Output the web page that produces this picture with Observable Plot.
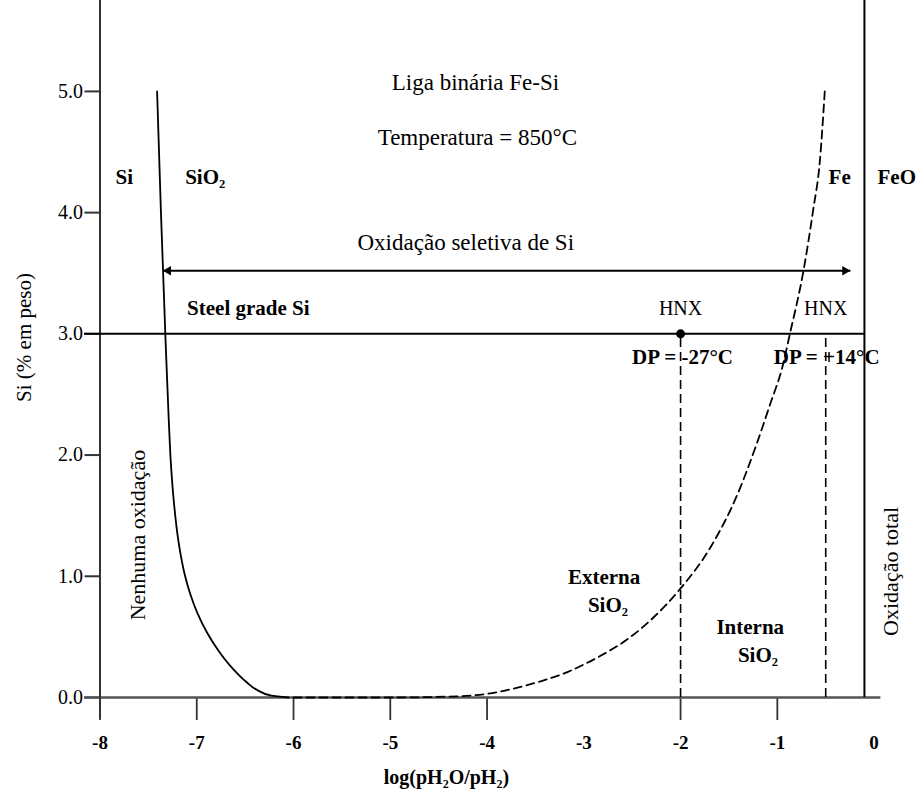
<!DOCTYPE html>
<html>
<head>
<meta charset="utf-8">
<script src="https://cdn.jsdelivr.net/npm/d3@7"></script>
<script src="https://cdn.jsdelivr.net/npm/@observablehq/plot@0.6"></script>
<style>
  html, body { margin: 0; padding: 0; background: #fff; }
  #chart { width: 919px; height: 796px; }
  #chart svg text { font-family: "Liberation Serif", "Times New Roman", serif; }
</style>
</head>
<body>
<div id="chart"></div>
<script>
// ---- data ----
const xTickValues = [-8, -7, -6, -5, -4, -2, -1];
const xTickLabels = [-8, -7, -6, -5, -4, -3, -2, -1, 0];
const yTickValues = [0, 1, 2, 3, 4, 5];

// Si / SiO2 boundary (solid)
const siBoundaryX = [-7.41, -7.37, -7.325, -7.29, -7.265, -7.235, -7.2, -7.16, -7.12, -7.07, -6.99, -6.89, -6.77, -6.63, -6.49, -6.36, -6.23, -6.05];
const siBoundaryY = [5.0, 4.0, 3.0, 2.3, 1.9, 1.6, 1.35, 1.15, 1.0, 0.86, 0.69, 0.53, 0.38, 0.24, 0.13, 0.055, 0.015, 0.0];

// external / internal oxidation boundary (dashed)
const extIntX = [-6.0, -5.0, -4.3, -4.0, -3.55, -3.17, -2.86, -2.55, -2.28, -2.0, -1.69, -1.41, -1.21, -1.07, -0.95, -0.87, -0.73, -0.63, -0.56, -0.51];
const extIntY = [0.0, 0.0, 0.01, 0.03, 0.11, 0.21, 0.33, 0.48, 0.66, 0.9, 1.24, 1.68, 2.10, 2.43, 2.72, 3.0, 3.52, 4.02, 4.43, 5.0];

// reference levels
const steelGradeSi = 3.0;
const dewPointX = [-2.0, -0.5];     // HNX dew points -27°C and +14°C
const feFeoBoundary = -0.1;
const selectiveRange = [-7.35, -0.245];
const selectiveLevel = 3.52;
const xDomain = [-8, 0];
const yDomain = [0, 5.75];
const xAxisExtent = [-8.16, 0.07];
const yAxisBottom = -0.175;

// annotations
const boldStartLabels = [
  {t: "Si", x: -7.84, y: 4.29},
  {t: "SiO₂", x: -7.12, y: 4.29},
  {t: "Fe", x: -0.47, y: 4.29},
  {t: "FeO", x: 0.035, y: 4.29},
  {t: "Steel grade Si", x: -7.10, y: 3.21}
];
const boldMiddleLabels = [
  {t: "DP = -27°C", x: -1.98, y: 2.81},
  {t: "DP = +14°C", x: -0.49, y: 2.81},
  {t: "Externa", x: -2.79, y: 0.99},
  {t: "SiO₂", x: -2.75, y: 0.76},
  {t: "Interna", x: -1.28, y: 0.58},
  {t: "SiO₂", x: -1.20, y: 0.35}
];
const normalLabels = [
  {t: "Liga binária Fe-Si", x: -4.12, y: 5.07},
  {t: "Temperatura = 850°C", x: -4.10, y: 4.62},
  {t: "Oxidação seletiva de Si", x: -4.22, y: 3.75}
];
const hnxLabels = [
  {t: "HNX", x: -2.0, y: 3.21},
  {t: "HNX", x: -0.5, y: 3.21}
];
const rotatedLabels = [
  {t: "Nenhuma oxidação", x: -7.61, y: 1.34},
  {t: "Oxidação total", x: 0.17, y: 1.04}
];
const xLabel = {t: "log(pH₂O/pH₂)", x: -4.42, y: -0.66};
const yLabel = {t: "Si (% em peso)", x: -8.78, y: 2.97};

// ---- build ----
const siCurve = siBoundaryX.map((x, i) => ({x, y: siBoundaryY[i]}));
const extCurve = extIntX.map((x, i) => ({x, y: extIntY[i]}));
const font = "'Liberation Serif', 'Times New Roman', serif";
const axisColor = "#333";

const chart = Plot.plot({
  width: 919,
  height: 796,
  marginLeft: 99.5,
  marginRight: 45.4,
  marginTop: 0,
  marginBottom: 99,
  style: {fontFamily: font, background: "#fff", color: "#000"},
  x: {domain: xDomain},
  y: {domain: yDomain},
  marks: [
    // tick marks
    Plot.axisX({ticks: xTickValues, tickSize: 23, tickFormat: () => "", stroke: axisColor, strokeWidth: 1.8, label: null}),
    Plot.axisX({ticks: xTickLabels, tickSize: 0, tickPadding: 38, tickFormat: d => String(d), fontSize: 19, fontWeight: "bold", label: null}),
    Plot.axisY({ticks: yTickValues, tickSize: 15, tickPadding: 2, tickFormat: d3.format(".1f"), fontSize: 20, stroke: axisColor, strokeWidth: 2, label: null}),
    // axis lines
    Plot.ruleY([0], {x1: xAxisExtent[0], x2: xAxisExtent[1], stroke: "#555", strokeWidth: 2.5}),
    Plot.ruleX([xDomain[0]], {y1: yAxisBottom, y2: yDomain[1], stroke: axisColor, strokeWidth: 2}),
    // steel grade line & Fe/FeO boundary
    Plot.ruleY([steelGradeSi], {x1: xAxisExtent[0], x2: feFeoBoundary, stroke: "#000", strokeWidth: 2}),
    Plot.ruleX([feFeoBoundary], {y1: 0, y2: yDomain[1], stroke: "#000", strokeWidth: 2}),
    // dew-point dashed verticals
    Plot.ruleX(dewPointX, {y1: 0, y2: steelGradeSi, stroke: "#000", strokeWidth: 1.6, strokeDasharray: "9,5"}),
    // curves
    Plot.line(siCurve, {x: "x", y: "y", curve: "monotone-y", stroke: "#000", strokeWidth: 1.8}),
    Plot.line(extCurve, {x: "x", y: "y", curve: "monotone-x", stroke: "#000", strokeWidth: 1.8, strokeDasharray: "8,5"}),
    // selective oxidation arrow
    Plot.link([0], {x1: () => selectiveRange[0], x2: () => selectiveRange[1], y1: () => selectiveLevel, y2: () => selectiveLevel, stroke: "#000", strokeWidth: 2}),
    Plot.dot([selectiveRange[1]], {x: d => d, y: () => selectiveLevel, symbol: "triangle", r: 3.5, rotate: 90, fill: "#000", stroke: null, dx: -5.4}),
    Plot.dot([selectiveRange[0]], {x: d => d, y: () => selectiveLevel, symbol: "triangle", r: 3.5, rotate: -90, fill: "#000", stroke: null, dx: 5.4}),
    // HNX point
    Plot.dot([dewPointX[0]], {x: d => d, y: () => steelGradeSi, r: 4.5, fill: "#000", stroke: null}),
    // labels
    Plot.text(normalLabels, {x: "x", y: "y", text: "t", fontSize: 23, fill: "#000"}),
    Plot.text(boldStartLabels, {x: "x", y: "y", text: "t", textAnchor: "start", fontSize: 21, fontWeight: "bold", fill: "#000"}),
    Plot.text(boldMiddleLabels, {x: "x", y: "y", text: "t", textAnchor: "middle", fontSize: 21, fontWeight: "bold", fill: "#000"}),
    Plot.text(hnxLabels, {x: "x", y: "y", text: "t", fontSize: 20, fill: "#000"}),
    Plot.text(rotatedLabels, {x: "x", y: "y", text: "t", rotate: -90, fontSize: 22, fill: "#000"}),
    Plot.text([xLabel], {x: "x", y: "y", text: "t", fontSize: 20, fontWeight: "bold", fill: "#000", clip: false}),
    Plot.text([yLabel], {x: "x", y: "y", text: "t", rotate: -90, fontSize: 21, fill: "#000", clip: false})
  ]
});
document.getElementById("chart").appendChild(chart);
</script>
</body>
</html>
